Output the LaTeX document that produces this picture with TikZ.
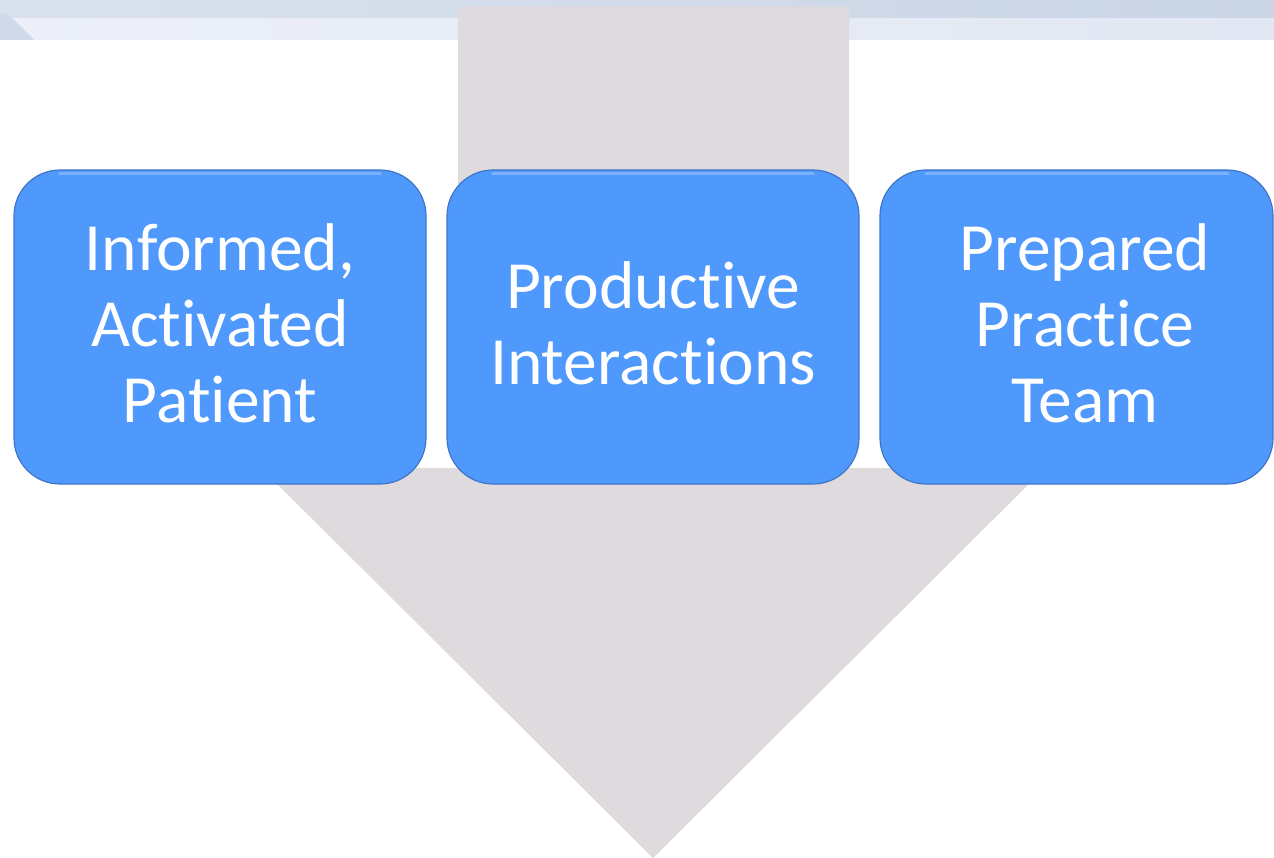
\documentclass[tikz,border=0pt]{standalone}
\usepackage{fontspec}
\setmainfont[Ligatures=NoCommon]{Carlito}
\definecolor{boxblue}{HTML}{4F98FC}
\definecolor{boxline}{HTML}{3F76C8}
\definecolor{arrowgray}{HTML}{DEDADD}
\definecolor{bandA}{HTML}{D9E1EC}
\definecolor{bandB}{HTML}{CAD5E6}
\definecolor{bandC}{HTML}{ECEFF7}
\definecolor{bandD}{HTML}{E2E8F3}
\tikzset{
  bluebox/.style={draw=boxline, line width=1.2pt, fill=boxblue, rounded corners=46pt},
  boxtext/.style={text=white, font=\fontsize{67.5}{76}\selectfont, align=center, inner sep=0pt},
}
\begin{document}
\begin{tikzpicture}[x=1pt,y=-1pt]
\useasboundingbox (0,0) rectangle (1274,858);
\fill[white] (0,0) rectangle (1274,858);
% top band
\shade[left color=bandA, right color=bandB] (0,0) rectangle (1274,19);
\shade[left color=bandC, right color=bandD] (0,19) rectangle (1274,40);
\fill[bandB!90!white] (0,14) -- (8,14) -- (34,40) -- (0,40) -- cycle;
% big arrow
\fill[arrowgray] (458,7) -- (849,7) -- (849,468) -- (1045,468) -- (653,858)
  -- (261,468) -- (458,468) -- cycle;
% boxes
\path[bluebox] (14,170) rectangle (426,484);
\path[bluebox] (447,170) rectangle (859,484);
\path[bluebox] (880,170) rectangle (1273,484);
\fill[white, opacity=0.25] (60,172) -- (380,172) -- (382,175) -- (58,175) -- cycle;
\fill[white, opacity=0.25] (493,172) -- (813,172) -- (815,175) -- (491,175) -- cycle;
\fill[white, opacity=0.25] (926,172) -- (1228,172) -- (1230,175) -- (924,175) -- cycle;
% texts
\node[boxtext] (t1) at (220,323) {Informed,\\Activated\\Patient};
\node[boxtext] (t2) at (653,323) {Productive\\Interactions};
\node[boxtext] (t3) at (1085,323) {Prepared\\Practice\\Team};
\end{tikzpicture}
\end{document}
